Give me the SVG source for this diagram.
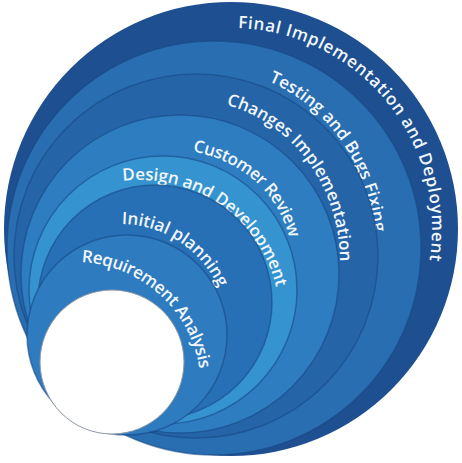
<svg xmlns="http://www.w3.org/2000/svg" width="462" height="463" viewBox="0 0 462 463">
<style>
.band{stroke:#174a85;stroke-opacity:.6;stroke-width:1.5}
.lbl{font-family:"Open Sans","DejaVu Sans",sans-serif;font-size:17px;font-weight:600;fill:#f2f7fc}
</style>
<defs>
<path id="p7" d="M238,28.1 A201,201 0 0 1 422.2,291.1"/>
<path id="p6" d="M268.7,81.3 A170,182 0 0 1 374.8,259.5"/>
<path id="p5" d="M226.3,104.8 A150,162 0 0 1 338.2,287.3"/>
<path id="p4" d="M192.8,151.7 A120,112 0 0 1 291.7,254.2"/>
<path id="p3" d="M122.9,181 A140,140 0 0 1 279.5,307.8"/>
<path id="p2" d="M121.9,224 A108,108 0 0 1 224.3,304"/>
<path id="p1" d="M81.6,262.2 A126,126 0 0 1 201,385.8"/>
</defs>
<rect width="462" height="463" fill="#ffffff"/>
<g id="final-implementation">
<circle cx="231" cy="229" r="227" fill="#1e5091"/>
<text class="lbl"><textPath href="#p7" textLength="340" lengthAdjust="spacing">Final Implementation and Deployment</textPath></text>
</g>
<g id="testing">
<circle class="band" cx="214" cy="248" r="207" fill="#2a6eb2"/>
<text class="lbl"><textPath href="#p6" textLength="193" lengthAdjust="spacing">Testing and Bugs Fixing</textPath></text>
</g>
<g id="changes">
<circle class="band" cx="196" cy="256" r="182" fill="#2664a8"/>
<text class="lbl"><textPath href="#p5" textLength="208" lengthAdjust="spacing">Changes Implementation</textPath></text>
</g>
<g id="customer-review">
<circle class="band" cx="180" cy="274" r="159" fill="#2d7dc0"/>
<text class="lbl"><textPath href="#p4" textLength="137" lengthAdjust="spacing">Customer Review</textPath></text>
</g>
<g id="design">
<circle class="band" cx="163" cy="290" r="134" fill="#3594cf"/>
<text class="lbl"><textPath href="#p3" textLength="204" lengthAdjust="spacing">Design and Development</textPath></text>
</g>
<g id="initial-planning">
<circle class="band" cx="155" cy="302" r="117" fill="#2870b6"/>
<text class="lbl"><textPath href="#p2" textLength="122" lengthAdjust="spacing">Initial planning</textPath></text>
</g>
<g id="requirement">
<circle class="band" cx="127" cy="335" r="100" fill="#2e7bbf"/>
<text class="lbl"><textPath href="#p1" textLength="172" lengthAdjust="spacing">Requirement Analysis</textPath></text>
</g>
<g id="start">
<circle cx="112" cy="362" r="72" fill="#ffffff" stroke="#8e98a4" stroke-width="1"/>
</g>
</svg>
